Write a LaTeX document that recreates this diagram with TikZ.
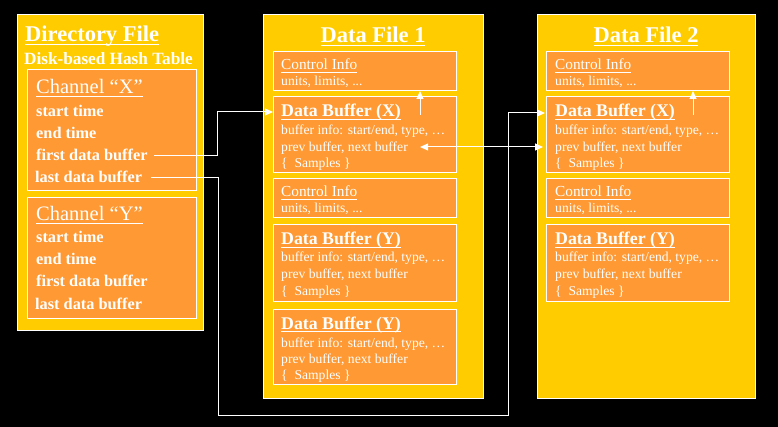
\documentclass[tikz,border=0pt]{standalone}
\usepackage{fontspec}
\setmainfont{Liberation Serif}
\usetikzlibrary{arrows.meta}
\definecolor{gold}{RGB}{255,204,0}
\definecolor{tang}{RGB}{255,153,51}
\newcommand{\myul}[1]{\setbox0\hbox{#1}\rlap{\rule[-2.6pt]{\wd0}{0.9pt}}\box0}
\begin{document}
\begin{tikzpicture}[x=1pt,y=-1pt,
  filebox/.style={draw=white,line width=1pt,fill=gold,anchor=north west,inner sep=0pt,outer sep=0pt},
  partbox/.style={draw=white,line width=1pt,fill=tang,anchor=north west,inner sep=0pt,outer sep=0pt},
  txt/.style={anchor=base west,inner sep=0pt,text=white},
  ttl/.style={txt,font=\fontsize{22.5}{26}\selectfont\bfseries},
  ctl/.style={anchor=base,inner sep=0pt,text=white,font=\fontsize{22.5}{26}\selectfont\bfseries},
  sub/.style={txt,font=\fontsize{17.2}{20}\selectfont\bfseries},
  chan/.style={txt,font=\fontsize{20.5}{24}\selectfont},
  item/.style={txt,font=\fontsize{16.3}{19}\selectfont\bfseries,text height=11.5pt,text depth=0pt},
  phead/.style={txt,font=\fontsize{15.3}{18}\selectfont},
  bhead/.style={txt,font=\fontsize{17.8}{20}\selectfont\bfseries},
  body/.style={txt,font=\fontsize{13.6}{16}\selectfont},
  conn/.style={draw=white,line width=1pt},
  tip/.style={-{Triangle[length=8pt,width=7pt]}}
]
\useasboundingbox[fill=black] (0,0) rectangle (778,427);

% ---------- Directory file ----------
\node[filebox,minimum width=186pt,minimum height=315pt] (dir) at (17,15) {};
\node[ttl] (dtitle) at (25,42) {\myul{Directory File}};
\node[sub] (dsub) at (24,65) {Disk-based Hash Table};
\node[partbox,minimum width=169pt,minimum height=121pt] (chx) at (27,70) {};
\node[chan] (cxt) at (36,94) {\myul{Channel ``X''}};
\node[item] (cxs) at (36,117) {start time};
\node[item] (cxe) at (36,139) {end time};
\node[item] (cxf) at (36,161) {first data buffer};
\node[item] (cxl) at (35,183) {last data buffer};
\node[partbox,minimum width=169pt,minimum height=120pt] (chy) at (27,198) {};
\node[chan] (cyt) at (36,221) {\myul{Channel ``Y''}};
\node[item] (cys) at (36,243) {start time};
\node[item] (cye) at (36,265) {end time};
\node[item] (cyf) at (36,287) {first data buffer};
\node[item] (cyl) at (35,309) {last data buffer};

% ---------- Data file 1 ----------
\node[filebox,minimum width=220pt,minimum height=383pt] (df1) at (263,15) {};
\node[ctl] (t1) at (373,43) {\myul{Data File 1}};
\node[partbox,minimum width=183pt,minimum height=39pt] (c1a) at (273,52) {};
\node[phead] (c1ah) at (281,70) {\myul{Control Info}};
\node[body] (c1ab) at (281,86) {units, limits, ...};
\node[partbox,minimum width=183pt,minimum height=76pt] (b1x) at (273,97) {};
\node[bhead] (b1xh) at (281,117) {\myul{Data Buffer (X)}};
\node[body] (b1x1) at (281,135) {buffer info: start/end, type, \dots};
\node[body] (b1x2) at (281,152) {prev buffer, next buffer};
\node[body] (b1x3) at (281,168) {\{\ \ Samples \}};
\node[partbox,minimum width=183pt,minimum height=39pt] (c1b) at (273,179) {};
\node[phead] (c1bh) at (281,197) {\myul{Control Info}};
\node[body] (c1bb) at (281,213) {units, limits, ...};
\node[partbox,minimum width=183pt,minimum height=76pt] (b1y) at (273,225) {};
\node[bhead] (b1yh) at (281,245) {\myul{Data Buffer (Y)}};
\node[body] (b1y1) at (281,262) {buffer info: start/end, type, \dots};
\node[body] (b1y2) at (281,279) {prev buffer, next buffer};
\node[body] (b1y3) at (281,295) {\{\ \ Samples \}};
\node[partbox,minimum width=183pt,minimum height=75pt] (b1z) at (273,309) {};
\node[bhead] (b1zh) at (281,329) {\myul{Data Buffer (Y)}};
\node[body] (b1z1) at (281,347) {buffer info: start/end, type, \dots};
\node[body] (b1z2) at (281,363) {prev buffer, next buffer};
\node[body] (b1z3) at (281,379) {\{\ \ Samples \}};

% ---------- Data file 2 ----------
\node[filebox,minimum width=218pt,minimum height=383pt] (df2) at (537,15) {};
\node[ctl] (t2) at (646,43) {\myul{Data File 2}};
\node[partbox,minimum width=183pt,minimum height=39pt] (c2a) at (546,52) {};
\node[phead] (c2ah) at (555,70) {\myul{Control Info}};
\node[body] (c2ab) at (555,86) {units, limits, ...};
\node[partbox,minimum width=183pt,minimum height=76pt] (b2x) at (546,97) {};
\node[bhead] (b2xh) at (555,117) {\myul{Data Buffer (X)}};
\node[body] (b2x1) at (555,135) {buffer info: start/end, type, \dots};
\node[body] (b2x2) at (555,152) {prev buffer, next buffer};
\node[body] (b2x3) at (555,168) {\{\ \ Samples \}};
\node[partbox,minimum width=183pt,minimum height=39pt] (c2b) at (546,179) {};
\node[phead] (c2bh) at (555,197) {\myul{Control Info}};
\node[body] (c2bb) at (555,213) {units, limits, ...};
\node[partbox,minimum width=183pt,minimum height=76pt] (b2y) at (546,225) {};
\node[bhead] (b2yh) at (555,245) {\myul{Data Buffer (Y)}};
\node[body] (b2y1) at (555,262) {buffer info: start/end, type, \dots};
\node[body] (b2y2) at (555,279) {prev buffer, next buffer};
\node[body] (b2y3) at (555,295) {\{\ \ Samples \}};

% ---------- connectors ----------
\coordinate (j1) at (217,112);
\coordinate (j2) at (218,415);
\coordinate (j3) at (508,415);
\coordinate (j4) at (508,113);
\coordinate (d1) at (420,147);
\coordinate (u1) at (420,115);
\coordinate (u2) at (693,115);

\draw[conn,tip] ([xshift=6pt]cxf.east) -| (j1) -- (j1 -| b1x.west);
\draw[conn,tip] ([xshift=9pt]cxl.east) -| (j2) -- (j3) -- (j4) -- ([xshift=-1pt]j4 -| b2x.west);
\draw[conn,{Triangle[length=8pt,width=7pt]}-{Triangle[length=8pt,width=7pt]}] (d1) -- ([xshift=-3pt]d1 -| b2x.west);
\draw[conn,tip] (u1) -- (u1 |- c1a.south);
\draw[conn,tip] (u2) -- (u2 |- c2a.south);
\end{tikzpicture}
\end{document}
